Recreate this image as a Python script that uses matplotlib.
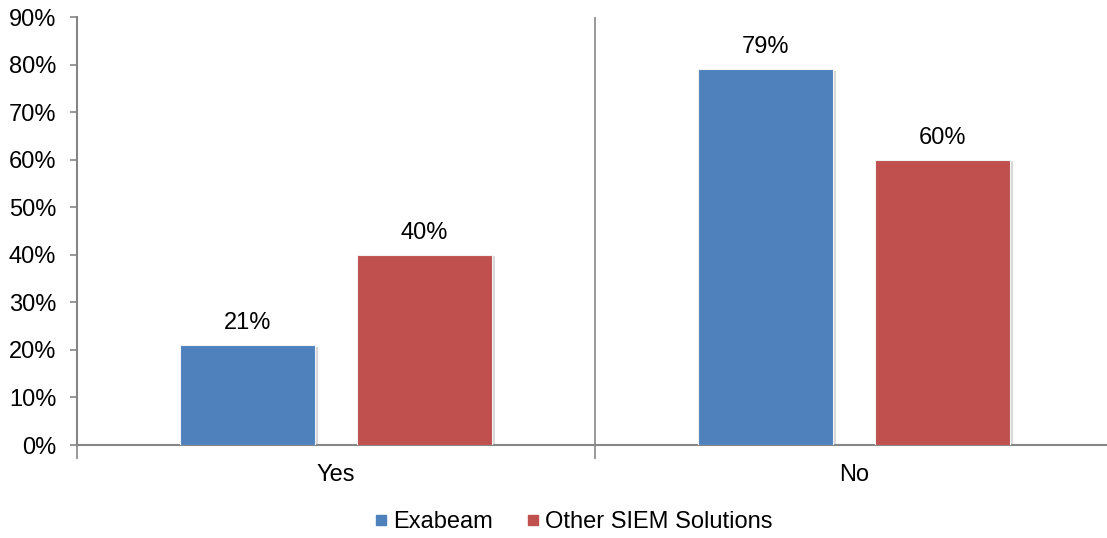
import matplotlib.pyplot as plt
import numpy as np

plt.rcParams['font.family'] = ['Liberation Sans', 'DejaVu Sans']

categories = ['Yes', 'No']
exabeam = [21, 79]
other_siem = [40, 60]
series_names = ['Exabeam', 'Other SIEM Solutions']
colors = ['#4F81BD', '#C0504D']
yticks = np.arange(0, 91, 10)

axis_grey = '#868686'
fs = 17

fig = plt.figure(figsize=(11.07, 5.38), dpi=100)
ax = fig.add_axes([77/1107, 93/538, 1036/1107, 428/538])

x = np.arange(len(categories))
offset = 0.171
width = 0.26

for vals, dx, col, name in zip([exabeam, other_siem], [-offset, offset], colors, series_names):
    bars = ax.bar(x + dx, vals, width, color=col, edgecolor='#f2f2f2', linewidth=0.8, label=name, zorder=3)
    # soft shadow to the right of each bar
    ax.bar(x + dx + 0.006, vals, width, bottom=-0.3, color='#d9d9d9', linewidth=0, zorder=2)
    for b, v in zip(bars, vals):
        ax.annotate(f'{v}%', (b.get_x() + b.get_width()/2, b.get_height()),
                    xytext=(0, 8), textcoords='offset points',
                    ha='center', va='bottom', fontsize=fs)

ax.set_xlim(-0.5, 1.5)
ax.set_ylim(0, 90)
ax.set_yticks(yticks)
ax.set_yticklabels([f'{t}%' for t in yticks], fontsize=fs)

ax.set_xticks([-0.5, 0.5, 1.5])
ax.set_xticklabels([])
ax.set_xticks(x, minor=True)
ax.set_xticklabels(categories, minor=True, fontsize=fs)
ax.tick_params(axis='x', which='major', length=10, color=axis_grey, width=1.2)
ax.tick_params(axis='x', which='minor', length=0, pad=14)
ax.tick_params(axis='y', length=5, color=axis_grey, width=1.2, pad=10)

ax.axvline(0.5, color=axis_grey, linewidth=1.2, zorder=1)

for s in ['top', 'right']:
    ax.spines[s].set_visible(False)
for s in ['left', 'bottom']:
    ax.spines[s].set_color(axis_grey)
    ax.spines[s].set_linewidth(1.5)

handles = [plt.Line2D([], [], marker='s', linestyle='', color=c, markersize=7) for c in colors]
fig.legend(handles, series_names, loc='center', bbox_to_anchor=(571/1107, 1 - 522/538),
           ncol=2, frameon=False, fontsize=fs, handletextpad=0.0, columnspacing=1.2,
           handlelength=1.0)

fig.savefig('out.png', dpi=100)
